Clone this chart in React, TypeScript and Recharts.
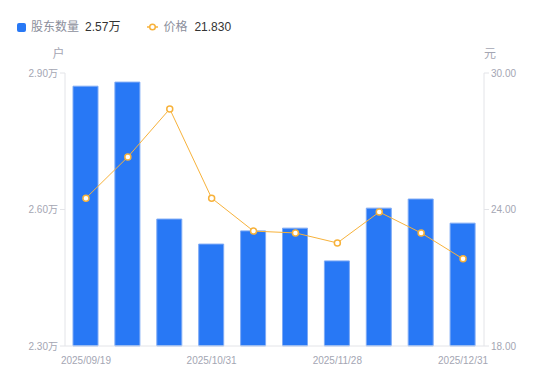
import React from 'react';
import { ComposedChart, Bar, Line, XAxis, YAxis } from 'recharts';

const dates = ['2025/09/19', '2025/09/30', '2025/10/20', '2025/10/31', '2025/11/10', '2025/11/20', '2025/11/28', '2025/12/10', '2025/12/19', '2025/12/31'];
const holders = [28710, 28800, 25790, 25240, 25530, 25590, 24870, 26030, 26230, 25700];
const prices = [24.5, 26.31, 28.42, 24.5, 23.05, 22.97, 22.53, 23.89, 22.97, 21.83];
const leftTicks = [23000, 26000, 29000];
const rightTicks = [18, 24, 30];

const data = dates.map((d, i) => ({ date: d, holders: holders[i], price: prices[i] }));

const FONT = '"Liberation Sans", "Noto Sans CJK SC", sans-serif';
const AXIS_COLOR = '#e3e4e8';
const TICK_COLOR = '#a4a6b3';

const LegendBox = () => (
  <div style={{ position: 'absolute', left: 17, top: 19, display: 'flex', alignItems: 'center', fontFamily: FONT, fontSize: 12, lineHeight: '16px' }}>
    <span style={{ display: 'inline-block', width: 9, height: 9, background: '#2878f5', borderRadius: 2, marginRight: 5 }} />
    <span style={{ color: '#8c8f9c', marginRight: 6 }}>股东数量</span>
    <span style={{ color: '#333' }}>{(holders[holders.length - 1] / 10000).toFixed(2)}万</span>
    <svg width={11} height={10} style={{ marginLeft: 27, marginRight: 5 }}>
      <line x1={0} y1={5} x2={11} y2={5} stroke="#f7b23b" strokeWidth={1.5} />
      <circle cx={5.5} cy={5} r={2.8} fill="#fff" stroke="#f7b23b" strokeWidth={1.5} />
    </svg>
    <span style={{ color: '#8c8f9c', marginRight: 7 }}>价格</span>
    <span style={{ color: '#333' }}>{prices[prices.length - 1].toFixed(3)}</span>
  </div>
);

export default function App() {
  return (
    <div style={{ position: 'absolute', left: 0, top: 0, width: 550, height: 381, background: '#fff' }}>
      <ComposedChart width={550} height={381} data={data} margin={{ top: 73, right: 0, bottom: 0, left: 0 }}>
        <XAxis
          dataKey="date"
          interval={2}
          tickLine={false}
          axisLine={{ stroke: AXIS_COLOR }}
          tick={{ fill: TICK_COLOR, fontSize: 10, fontFamily: FONT }}
          tickMargin={5}
          height={35}
        />
        <YAxis
          yAxisId="left"
          width={65}
          domain={[23000, 29000]}
          ticks={leftTicks}
          tickFormatter={(v: number) => (v / 10000).toFixed(2) + '万'}
          axisLine={{ stroke: AXIS_COLOR }}
          tickLine={{ stroke: AXIS_COLOR }}
          tickSize={5}
          tick={{ fill: TICK_COLOR, fontSize: 10, fontFamily: FONT }}
          label={{ value: '户', position: 'top', dx: 26, dy: -10, fill: TICK_COLOR, fontSize: 12, fontFamily: FONT }}
        />
        <YAxis
          yAxisId="right"
          orientation="right"
          width={66}
          domain={[18, 30]}
          ticks={rightTicks}
          tickFormatter={(v: number) => v.toFixed(2)}
          axisLine={{ stroke: AXIS_COLOR }}
          tickLine={{ stroke: AXIS_COLOR }}
          tickSize={5}
          tick={{ fill: TICK_COLOR, fontSize: 10, fontFamily: FONT }}
          label={{ value: '元', position: 'top', dx: -27, dy: -10, fill: TICK_COLOR, fontSize: 12, fontFamily: FONT }}
        />
        <Bar yAxisId="left" dataKey="holders" barSize={25} fill="#2878f5" stroke="#7eaaf5" strokeWidth={1} isAnimationActive={false} />
        <Line
          yAxisId="right"
          dataKey="price"
          type="linear"
          stroke="#f7b23b"
          strokeWidth={1}
          dot={{ r: 3, fill: '#fff', stroke: '#f7b23b', strokeWidth: 1.5 }}
          isAnimationActive={false}
        />
      </ComposedChart>
      <LegendBox />
    </div>
  );
}
